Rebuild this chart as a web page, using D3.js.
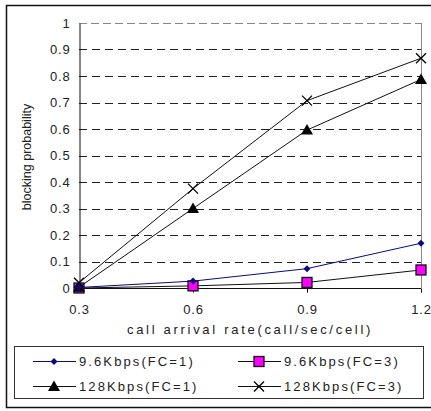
<!DOCTYPE html>
<html><head><meta charset="utf-8">
<script src="https://cdn.jsdelivr.net/npm/d3@7"></script>
<style>body{margin:0;background:#fff}svg{display:block}text{font-family:"Liberation Sans",Arial,sans-serif;fill:#222}</style>
</head><body><svg id="c" width="431" height="411"></svg>
<script>
const categories = ["0.3","0.6","0.9","1.2"];
const yTicks = [0,0.1,0.2,0.3,0.4,0.5,0.6,0.7,0.8,0.9,1];
const s96fc1 = [0.002,0.026,0.073,0.169];
const s96fc3 = [0.0,0.008,0.021,0.068];
const s128fc1 = [0.003,0.300,0.596,0.787];
const s128fc3 = [0.020,0.375,0.707,0.867];
const seriesNames = ["9.6Kbps(FC=1)","9.6Kbps(FC=3)","128Kbps(FC=1)","128Kbps(FC=3)"];

const svg = d3.select("#c");
const L=79,R=421,T=23,B=288;
const x = d3.scalePoint().domain(categories).range([L,R]).padding(0);
const y = d3.scaleLinear().domain([0,1]).range([B,T]);

// outer border
svg.append("rect").attr("x",6.5).attr("y",5.5).attr("width",430).attr("height",402).attr("fill","none").attr("stroke","#111").attr("stroke-width",1.5);

// grid
svg.append("g").selectAll("line").data(yTicks.filter(d=>d>0)).join("line")
 .attr("x1",L).attr("x2",R).attr("y1",d=>Math.round(y(d))+0.5).attr("y2",d=>Math.round(y(d))+0.5)
 .attr("stroke",d=>d===1?"#888":"#222").attr("stroke-dasharray",d=>d===1?"8,4":"8,5");
// right border
svg.append("line").attr("x1",R+0.5).attr("x2",R+0.5).attr("y1",T).attr("y2",B).attr("stroke","#888");

// axes
const yAxis = d3.axisLeft(y).tickValues(yTicks).tickSize(0).tickPadding(9).tickFormat(d=>d===0||d===1?String(d):d3.format(".1f")(d));
const gy = svg.append("g").attr("transform",`translate(${L+0.5},0)`).call(yAxis);
gy.select(".domain").attr("stroke","#111");
gy.selectAll("text").style("font-size","13px").style("letter-spacing","0.8px").attr("fill","#222");
const xAxis = d3.axisBottom(x).tickSize(4).tickPadding(12);
const gx = svg.append("g").attr("transform",`translate(0,${B+0.5})`).call(xAxis);
gx.select(".domain").attr("d",`M${L},0H${R}`).attr("stroke","#111");
gx.selectAll("text").style("font-size","13px").style("letter-spacing","0.8px").attr("fill","#222");

svg.append("text").attr("x",250).attr("y",334).attr("text-anchor","middle").style("font-size","13px").style("letter-spacing","2.7px").text("call arrival rate(call/sec/cell)");
svg.append("text").attr("transform","translate(31,157) rotate(-90)").attr("text-anchor","middle").style("font-size","12.5px").text("blocking probability");

const line = d3.line().x((d,i)=>x(categories[i])).y(d=>y(d));
function drawSeries(vals,color,marker){
  svg.append("path").datum(vals).attr("d",line).attr("fill","none").attr("stroke",color).attr("stroke-width",1);
  vals.forEach((v,i)=>marker(svg,x(categories[i]),y(v)));
}
const mDiamond=(g,cx,cy)=>g.append("path").attr("d",`M${cx},${cy-3.5}L${cx+3.5},${cy}L${cx},${cy+3.5}L${cx-3.5},${cy}Z`).attr("fill","#0a0a80");
const mSquare=(g,cx,cy)=>g.append("rect").attr("x",cx-5).attr("y",cy-5).attr("width",10).attr("height",10).attr("fill","#ff00ff").attr("stroke","#111").attr("stroke-width",1.3);
const mTri=(g,cx,cy)=>g.append("path").attr("d",`M${cx},${cy-6}L${cx+6},${cy+4.5}L${cx-6},${cy+4.5}Z`).attr("fill","#000");
const mX=(g,cx,cy)=>g.append("path").attr("d",`M${cx-5},${cy-5}L${cx+5},${cy+5}M${cx-5},${cy+5}L${cx+5},${cy-5}`).attr("stroke","#000").attr("stroke-width",1.3);

drawSeries(s96fc3,"#111",mSquare);
drawSeries(s128fc1,"#111",mTri);
drawSeries(s128fc3,"#111",mX);
drawSeries(s96fc1,"#0a0a80",mDiamond);

// legend
svg.append("rect").attr("x",14.5).attr("y",346.5).attr("width",409).attr("height",52).attr("fill","none").attr("stroke","#333");
const leg = [
 {name:seriesNames[0],c:"#0a0a80",m:mDiamond,x:33,y:361},
 {name:seriesNames[1],c:"#111",m:mSquare,x:238,y:361},
 {name:seriesNames[2],c:"#111",m:mTri,x:33,y:386},
 {name:seriesNames[3],c:"#111",m:mX,x:238,y:386}];
leg.forEach(d=>{
  svg.append("line").attr("x1",d.x).attr("x2",d.x+43).attr("y1",d.y+0.5).attr("y2",d.y+0.5).attr("stroke",d.c);
  d.m(svg,d.x+21,d.y+0.5);
  svg.append("text").attr("x",d.x+46).attr("y",d.y+5).style("font-size","13px").style("letter-spacing","2.1px").text(d.name);
});
</script></body></html>
